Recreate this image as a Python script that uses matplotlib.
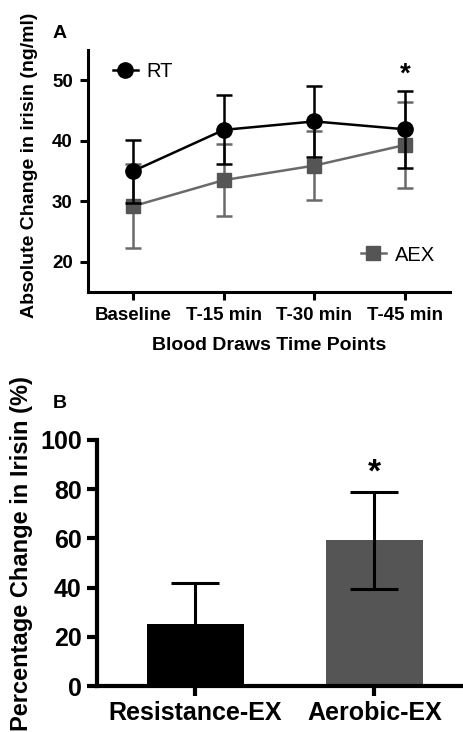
import numpy as np
import matplotlib.pyplot as plt
from matplotlib.lines import Line2D

plt.rcParams['font.family'] = ['Liberation Sans', 'DejaVu Sans']

# panel A data
time_points = ['Baseline', 'T-15 min', 'T-30 min', 'T-45 min']
rt_mean = [35.0, 41.8, 43.2, 41.9]
rt_err = [5.2, 5.7, 5.9, 6.4]
aex_mean = [29.2, 33.5, 35.9, 39.3]
aex_err = [7.0, 5.9, 5.7, 7.1]

# panel B data
groups = ['Resistance-EX', 'Aerobic-EX']
pct_mean = [25.1, 59.2]
pct_err = [16.7, 19.6]

black = '#000000'
grey = '#555555'
grey_line = '#6a6a6a'

fig = plt.figure(figsize=(4.64, 7.32), dpi=100)
axA = fig.add_axes([0.1897, 0.601, 0.7803, 0.3307])
axB = fig.add_axes([0.209, 0.0628, 0.791, 0.3362])

x = np.arange(len(time_points))

# ---- panel A
axA.errorbar(x, aex_mean, yerr=aex_err, color=grey_line, ecolor=grey_line,
             elinewidth=1.8, capsize=6, capthick=1.8, lw=1.8,
             marker='s', ms=10, mfc=grey, mec=grey, zorder=2)
axA.errorbar(x, rt_mean, yerr=rt_err, color=black, ecolor=black,
             elinewidth=1.8, capsize=6, capthick=1.8, lw=1.8,
             marker='o', ms=11, mfc=black, mec=black, zorder=3)
axA.set_xlim(-0.5, 3.5)
axA.set_ylim(15, 55)
axA.set_yticks([20, 30, 40, 50])
axA.set_xticks(x)
axA.set_xticklabels(time_points)
for s in ['top', 'right']:
    axA.spines[s].set_visible(False)
for s in ['left', 'bottom']:
    axA.spines[s].set_linewidth(2.2)
axA.tick_params(width=2.2, length=6, labelsize=13.5, pad=5)
for lab in axA.get_xticklabels() + axA.get_yticklabels():
    lab.set_fontweight('bold')
axA.set_xlabel('Blood Draws Time Points', fontsize=14, fontweight='bold', labelpad=9)
axA.set_ylabel('Absolute Change in irisin (ng/ml)', fontsize=14, fontweight='bold')
axA.yaxis.set_label_coords(-0.138, 0.525)
axA.text(3, 51, '*', ha='center', va='center', fontsize=20, fontweight='bold')

rt_handle = Line2D([], [], color=black, lw=1.8, marker='o', ms=11)
aex_handle = Line2D([], [], color=grey_line, lw=1.8, marker='s', ms=10, mfc=grey, mec=grey)
leg1 = axA.legend([rt_handle], ['RT'], loc='center left', bbox_to_anchor=(0.07, 0.913),
                  frameon=False, fontsize=14.5, handlelength=1.2, handletextpad=0.45,
                  borderpad=0, borderaxespad=0)
axA.add_artist(leg1)
axA.legend([aex_handle], ['AEX'], loc='center left', bbox_to_anchor=(0.755, 0.153),
           frameon=False, fontsize=14.5, handlelength=1.2, handletextpad=0.45,
           borderpad=0, borderaxespad=0)

# ---- panel B
xb = np.arange(len(groups))
axB.bar(xb, pct_mean, width=0.54, color=[black, grey], zorder=2)
axB.errorbar(xb, pct_mean, yerr=pct_err, fmt='none', ecolor=black,
             elinewidth=2.2, capsize=17, capthick=2.2, zorder=3)
axB.set_xlim(-0.55, 1.5)
axB.set_ylim(0, 100)
axB.set_yticks([0, 20, 40, 60, 80, 100])
axB.set_xticks(xb)
axB.set_xticklabels(groups)
for s in ['top', 'right']:
    axB.spines[s].set_visible(False)
for s in ['left', 'bottom']:
    axB.spines[s].set_linewidth(3)
axB.tick_params(width=3, length=7, labelsize=18, pad=4)
for lab in axB.get_xticklabels() + axB.get_yticklabels():
    lab.set_fontweight('bold')
axB.set_ylabel('Percentage Change in Irisin (%)', fontsize=17, fontweight='bold')
axB.yaxis.set_label_coords(-0.175, 0.54)
axB.text(1, 86.5, '*', ha='center', va='center', fontsize=24, fontweight='bold')

fig.text(60 / 464, 1 - 34 / 732, 'A', ha='center', va='center', fontsize=14, fontweight='bold')
fig.text(60 / 464, 1 - 403 / 732, 'B', ha='center', va='center', fontsize=14, fontweight='bold')

fig.savefig('out.png', dpi=100)
